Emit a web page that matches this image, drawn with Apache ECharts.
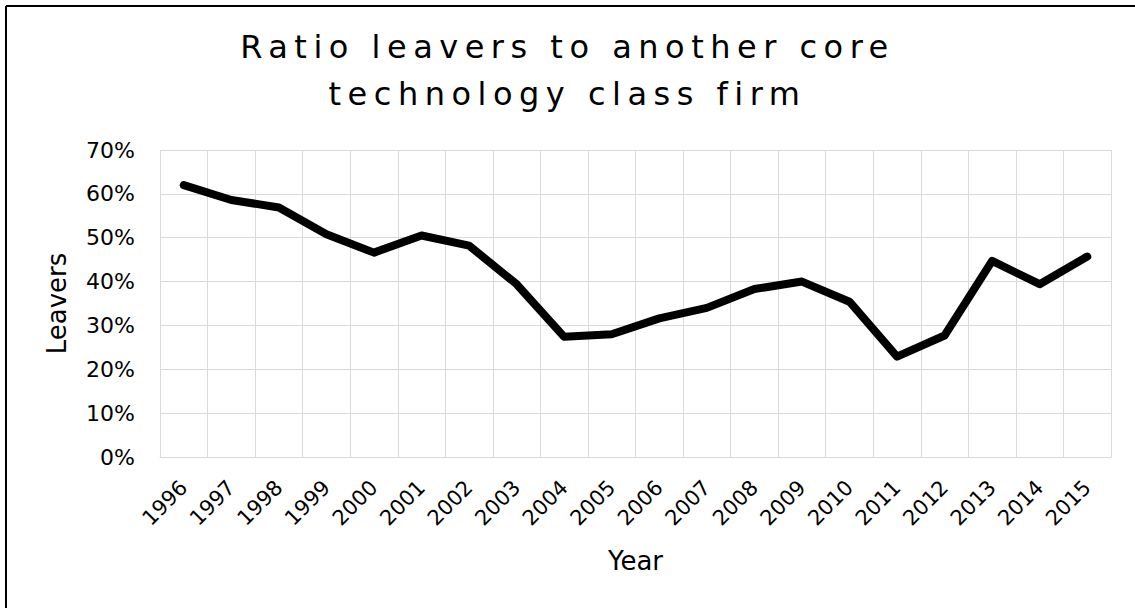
<!DOCTYPE html>
<html>
<head>
<meta charset="utf-8">
<script src="https://cdn.jsdelivr.net/npm/echarts@6/dist/echarts.min.js"></script>
<style>
  html, body { margin: 0; padding: 0; background: #fff; }
  #chart { width: 1135px; height: 608px; }
  /* spaced-out lettering for the two-line chart title */
  #chart text[style*="32px"] { letter-spacing: 6.5px; }
</style>
</head>
<body>
<div id="chart"></div>
<script>
// Share of leavers moving to another firm in the same core technology class
const years = ['1996','1997','1998','1999','2000','2001','2002','2003','2004','2005',
               '2006','2007','2008','2009','2010','2011','2012','2013','2014','2015'];
const leaverRatio = [0.620, 0.586, 0.569, 0.508, 0.466, 0.505, 0.482, 0.394, 0.274, 0.280,
                     0.316, 0.340, 0.383, 0.400, 0.354, 0.229, 0.277, 0.447, 0.394, 0.457];
const yTicks = { min: 0, max: 0.7, step: 0.1 };

const FONT = 'DejaVu Sans, Verdana, sans-serif';
const chart = echarts.init(document.getElementById('chart'), null, { renderer: 'svg' });

chart.setOption({
  backgroundColor: '#fff',
  animation: false,
  title: {
    text: 'Ratio leavers to another core\ntechnology class firm',
    left: 'center',
    top: 18,
    textStyle: {
      fontFamily: FONT,
      fontSize: 32,
      fontWeight: 'normal',
      color: '#000',
      lineHeight: 47
    }
  },
  grid: { left: 160, right: 24, top: 150, bottom: 151, containLabel: false },
  xAxis: {
    type: 'category',
    data: years,
    boundaryGap: true,
    name: 'Year',
    nameLocation: 'middle',
    nameGap: 91,
    nameTextStyle: { fontFamily: FONT, fontSize: 26, color: '#000' },
    axisLine: { show: true, lineStyle: { color: '#d9d9d9', width: 1 } },
    axisTick: { show: false },
    axisLabel: { rotate: 45, margin: 27, fontFamily: FONT, fontSize: 21, color: '#000', interval: 0 },
    splitLine: { show: true, interval: 0, lineStyle: { color: '#d9d9d9', width: 1 } }
  },
  yAxis: {
    type: 'value',
    min: yTicks.min,
    max: yTicks.max,
    interval: yTicks.step,
    name: 'Leavers',
    nameLocation: 'middle',
    nameGap: 90,
    nameTextStyle: { fontFamily: FONT, fontSize: 26, color: '#000' },
    axisLine: { show: false },
    axisTick: { show: false },
    axisLabel: {
      margin: 25,
      fontFamily: FONT,
      fontSize: 22,
      color: '#000',
      formatter: v => Math.round(v * 100) + '%'
    },
    splitLine: { show: true, lineStyle: { color: '#d9d9d9', width: 1 } }
  },
  series: [{
    type: 'line',
    data: leaverRatio,
    showSymbol: false,
    symbol: 'none',
    lineStyle: { color: '#000', width: 8, join: 'round', cap: 'round' }
  }],
  graphic: [
    { type: 'line', shape: { x1: 6, y1: 6, x2: 1135, y2: 6 }, style: { stroke: '#000', lineWidth: 2 } },
    { type: 'line', shape: { x1: 6, y1: 6, x2: 6, y2: 608 }, style: { stroke: '#000', lineWidth: 2 } }
  ]
});
</script>
</body>
</html>
